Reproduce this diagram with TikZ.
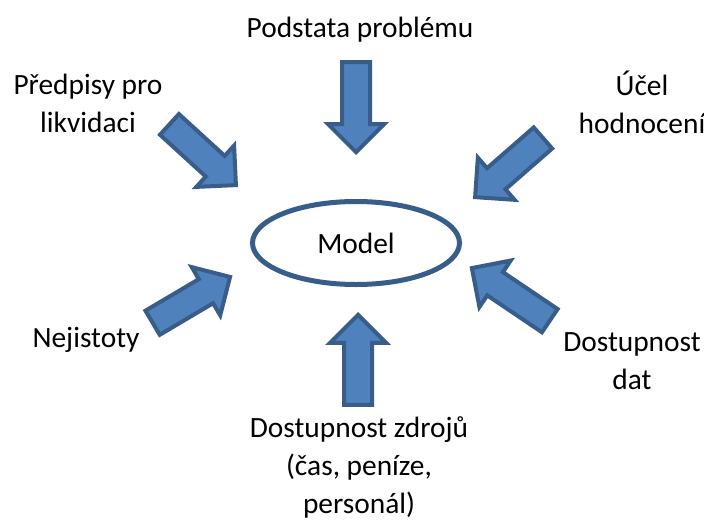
\documentclass[tikz,border=0pt]{standalone}
\usepackage{fontspec}
\setmainfont{Carlito}
\usetikzlibrary{shapes.arrows,shapes.geometric}
\definecolor{sipfill}{HTML}{4F81BD}
\definecolor{sipline}{HTML}{385D8A}
\begin{document}
\begin{tikzpicture}[
  x=0.5pt, y=-0.5pt,
  font=\fontsize{14.7}{19}\selectfont,
  lbl/.style={align=center, anchor=base, inner sep=0pt},
  sip/.style={single arrow, draw=sipline, fill=sipfill, line width=2pt,
              inner xsep=0pt, inner ysep=6pt, minimum height=45pt,
              single arrow head extend=7pt, anchor=tip},
  model/.style={ellipse, draw=sipline, line width=2.5pt,
                minimum width=103.5pt, minimum height=41.5pt, inner sep=0pt}
]
\useasboundingbox (0,0) rectangle (704,524);
\node[model] (model) at (356,243) {Model};

% labels, anchored at the baseline of their last line
\node[lbl] (podstata) at (360,38)  {Podstata problému};
\node[lbl] (predpisy) at (88,132)  {Předpisy pro\\likvidaci};
\node[lbl] (ucel)     at (642,133) {Účel\\hodnocení};
\node[lbl] (nejist)   at (86,347)  {Nejistoty};
\node[lbl] (dostdat)  at (632,389) {Dostupnost\\dat};
\node[lbl] (zdroje)   at (359,513) {Dostupnost zdrojů\\(čas, peníze,\\personál)};

% block arrows, placed by their tips
\node[sip, rotate=-90]    (sipN)  at (356,155)     {};
\node[sip, rotate=90]     (sipS)  at (358,312)     {};
\node[sip, rotate=-42.4]  (sipNW) at (238,187)     {};
\node[sip, rotate=-138.9] (sipNE) at (473,199)     {};
\node[sip, rotate=30.6]   (sipSW) at (232.5,275.5) {};
\node[sip, rotate=146, minimum height=47pt] (sipSE) at (469.5,266.5) {};
\end{tikzpicture}
\end{document}
